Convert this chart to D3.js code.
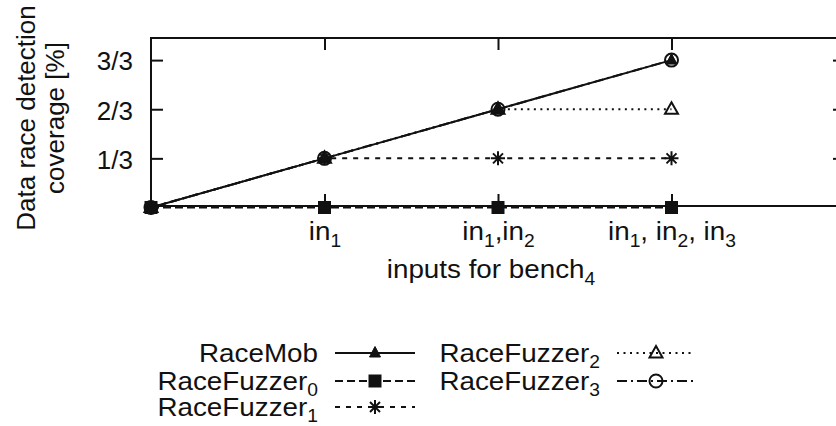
<!DOCTYPE html>
<html><head><meta charset="utf-8">
<script src="https://cdn.jsdelivr.net/npm/d3@7"></script>
<style>
body{margin:0;background:#fff}
text{font-family:"Liberation Sans",Arial,Helvetica,sans-serif;fill:#111}
</style>
</head><body>
<svg id="chart" width="836" height="426"></svg>
<script>
// ---------- data ----------
const xPositions   = [0, 1, 2, 3];
const xTickValues  = [1, 2, 3];
const xTickLabels  = ["in_1", "in_1,in_2", "in_1, in_2, in_3"];
const yTickValues  = [1/3, 2/3, 1];
const yTickLabels  = ["1/3", "2/3", "3/3"];
const xAxisTitle   = "inputs for bench_4";
const yAxisTitle   = ["Data race detection", "coverage [%]"];
const seriesNames  = ["RaceMob", "RaceFuzzer_0", "RaceFuzzer_1", "RaceFuzzer_2", "RaceFuzzer_3"];
const raceMob      = [0, 1/3, 2/3, 1];
const raceFuzzer0  = [0, 0, 0, 0];
const raceFuzzer1  = [0, 1/3, 1/3, 1/3];
const raceFuzzer2  = [0, 1/3, 2/3, 2/3];
const raceFuzzer3  = [0, 1/3, 2/3, 1];

// ---------- styles ----------
const seriesValues = [raceMob, raceFuzzer0, raceFuzzer1, raceFuzzer2, raceFuzzer3];
const dashes  = [null, "8,4", "5,6", "2,4.5", "10,4,2,4"];
const markers = ["triFilled", "square", "asterisk", "triOpen", "circle"];
const ink = "#111";
const FS = 26, SUB = 18, SX = 1.07;

const svg = d3.select("#chart");
const x = d3.scaleLinear().domain([0, 4]).range([151, 845]);
const y = d3.scaleLinear().domain([0.01, 1.15]).range([206, 38]);

// text helper with gnuplot-like "_x" subscripts
function addText(parent, str, tx, ty, anchor, sx, rot, subdy) {
  const sdy = subdy === undefined ? 7 : subdy;
  let tr = `translate(${tx},${ty})`;
  if (rot) tr += ` rotate(${rot})`;
  if (sx && sx !== 1) tr += ` scale(${sx},1)`;
  const t = parent.append("text").attr("transform", tr)
    .attr("text-anchor", anchor).attr("font-size", FS);
  const parts = str.split(/(_\w)/).filter(p => p.length);
  let shifted = false;
  parts.forEach(p => {
    if (p[0] === "_") {
      t.append("tspan").attr("font-size", SUB).attr("dy", shifted ? 0 : sdy).text(p.slice(1));
      shifted = true;
    } else {
      t.append("tspan").attr("dy", shifted ? -sdy : 0).text(p);
      shifted = false;
    }
  });
  return t;
}

// marker drawing
function drawMarker(g, type, cx, cy) {
  const m = g.append("path").attr("transform", `translate(${cx},${cy})`);
  switch (type) {
    case "triFilled":
      m.attr("d", "M0,-6.5L5.5,4L-5.5,4Z").attr("fill", ink).attr("stroke", ink).attr("stroke-width", 1); break;
    case "square":
      m.attr("d", "M-6.5,-6.5H6.5V6.5H-6.5Z").attr("fill", ink); break;
    case "asterisk":
      m.attr("d", "M-7,0H7M0,-7V7M-5,-5L5,5M-5,5L5,-5").attr("fill", "none").attr("stroke", ink).attr("stroke-width", 2); break;
    case "triOpen":
      m.attr("d", "M0,-7L6.5,4.5L-6.5,4.5Z").attr("fill", "none").attr("stroke", ink).attr("stroke-width", 2); break;
    case "circle":
      m.attr("d", d3.arc()({innerRadius: 0, outerRadius: 6.5, startAngle: 0, endAngle: 2 * Math.PI}))
        .attr("fill", "none").attr("stroke", ink).attr("stroke-width", 2); break;
  }
}

// ---------- axes ----------
const tickStyle = g => { g.select(".domain").remove(); g.selectAll(".tick line").attr("stroke", ink).attr("stroke-width", 2); };

const gL = svg.append("g").attr("transform", `translate(${x(0)},0)`)
  .call(d3.axisLeft(y).tickValues(yTickValues).tickSizeInner(-12).tickSizeOuter(0).tickPadding(18)
        .tickFormat((d, i) => yTickLabels[i]))
  .call(tickStyle);
gL.selectAll(".tick text").attr("font-size", FS).attr("font-family", '"Liberation Sans",Arial,sans-serif')
  .attr("fill", ink).attr("dy", "0.38em");

svg.append("g").attr("transform", `translate(${x(4)},0)`)
  .call(d3.axisRight(y).tickValues(yTickValues).tickSizeInner(-12).tickSizeOuter(0).tickFormat(""))
  .call(tickStyle);

const gB = svg.append("g").attr("transform", `translate(0,${y.range()[0]})`)
  .call(d3.axisBottom(x).tickValues(xTickValues).tickSizeInner(-12).tickSizeOuter(0).tickFormat(""))
  .call(tickStyle);
gB.selectAll(".tick").each(function (d, i) {
  addText(d3.select(this), xTickLabels[i], 0, 34, "middle", SX);
});

svg.append("g").attr("transform", `translate(0,${y.range()[1]})`)
  .call(d3.axisTop(x).tickValues(xTickValues).tickSizeInner(-12).tickSizeOuter(0).tickFormat(""))
  .call(tickStyle);

// frame
svg.append("rect").attr("x", x(0)).attr("y", y.range()[1])
  .attr("width", x(4) - x(0)).attr("height", y.range()[0] - y.range()[1])
  .attr("fill", "none").attr("stroke", ink).attr("stroke-width", 2);

// axis titles
addText(svg, xAxisTitle, 491, 278, "middle", SX);
addText(svg, yAxisTitle[0], 35, 118, "middle", 1, -90);
addText(svg, yAxisTitle[1], 64, 118, "middle", 1, -90);

// ---------- series ----------
const line = d3.line().x((d, i) => x(xPositions[i])).y(d => y(d));
const gS = svg.append("g");
seriesValues.forEach((vals, k) => {
  gS.append("path").attr("d", line(vals)).attr("fill", "none").attr("stroke", ink)
    .attr("stroke-width", 2).attr("stroke-dasharray", dashes[k]);
});
const markerOrder = [0, 2, 3, 4, 1];
markerOrder.forEach(k => {
  seriesValues[k].forEach((v, i) => drawMarker(gS, markers[k], x(xPositions[i]), y(v)));
});

// ---------- legend ----------
const legendCols = [{textEnd: 318, x1: 335, x2: 415}, {textEnd: 600, x1: 617, x2: 695}];
const legendRows = [353, 381, 407];
const gLeg = svg.append("g");
seriesNames.forEach((name, k) => {
  const col = legendCols[k < 3 ? 0 : 1];
  const ly = legendRows[k < 3 ? k : k - 3];
  addText(gLeg, name, col.textEnd, ly + 8.5, "end", SX, 0, 6);
  gLeg.append("line").attr("x1", col.x1).attr("x2", col.x2).attr("y1", ly).attr("y2", ly)
    .attr("stroke", ink).attr("stroke-width", 2).attr("stroke-dasharray", dashes[k]);
  drawMarker(gLeg, markers[k], (col.x1 + col.x2) / 2, ly);
});
</script>
</body></html>
